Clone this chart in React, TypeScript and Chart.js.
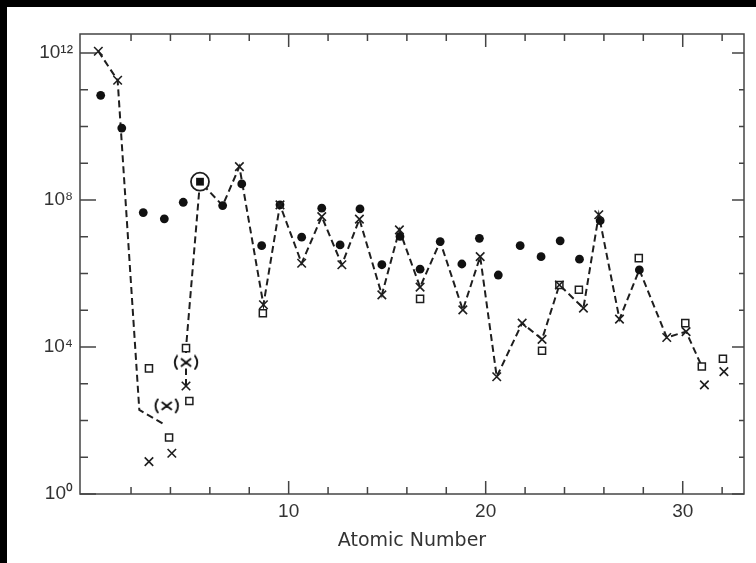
import React, { useEffect, useRef } from "react";
import { Chart, registerables } from "chart.js";

Chart.register(...registerables);

// Positions are read on the printed "Atomic Number" scale; values are log10 of abundance.
// Filled circles
const cosmicX = [0.46, 1.53, 2.62, 3.69, 4.65, 6.65, 7.62, 8.63, 9.56, 10.66, 11.68, 12.61, 13.62, 14.73, 15.65, 16.67, 17.69, 18.79, 19.68, 20.64, 21.75, 22.81, 23.78, 24.76, 25.81, 27.8];
const cosmicLog = [10.85, 9.96, 7.66, 7.49, 7.94, 7.85, 8.44, 6.76, 7.87, 6.99, 7.78, 6.78, 7.76, 6.24, 7.01, 6.12, 6.87, 6.26, 6.96, 5.96, 6.76, 6.46, 6.89, 6.39, 7.44, 6.1];

// Crosses
const solarX = [0.34, 1.32, 2.91, 4.07, 4.79, 7.5, 8.72, 9.56, 10.66, 11.68, 12.7, 13.59, 14.73, 15.62, 16.67, 18.84, 19.72, 20.56, 21.85, 22.86, 23.74, 24.96, 25.74, 26.79, 29.19, 30.17, 31.1, 32.09];
const solarLog = [12.05, 11.26, 0.88, 1.11, 2.94, 8.91, 5.15, 7.87, 6.28, 7.55, 6.24, 7.48, 5.42, 7.19, 5.63, 5.01, 6.46, 3.19, 4.65, 4.21, 5.69, 5.06, 7.6, 4.76, 4.26, 4.42, 2.97, 3.33];

// Open squares
const meteorX = [2.91, 3.93, 4.79, 4.96, 8.69, 16.67, 22.86, 23.74, 24.73, 27.77, 30.13, 30.97, 32.04];
const meteorLog = [3.42, 1.54, 3.97, 2.53, 4.92, 5.31, 3.9, 5.69, 5.56, 6.42, 4.65, 3.47, 3.68];

// Bracketed crosses "(x)"
const estX = [3.81, 4.79];
const estLog = [2.4, 3.58];

// Circled filled square (carbon)
const carbonX = [5.5];
const carbonLog = [8.5];

// Dashed line, H -> He -> Li/Be region
const curveX = [0.34, 1.32, 2.42, 3.73];
const curveLog = [12.05, 11.26, 2.29, 1.88];

// Dashed zig-zag, B -> Ga
const lineX = [4.79, 4.79, 5.5, 6.65, 7.5, 8.72, 9.56, 10.66, 11.68, 12.7, 13.59, 14.73, 15.62, 16.67, 17.69, 18.84, 19.72, 20.56, 21.85, 22.86, 23.74, 24.96, 25.74, 26.79, 27.8, 29.19, 30.17, 30.97];
const lineLog = [2.94, 3.97, 8.5, 7.85, 8.91, 5.15, 7.87, 6.28, 7.55, 6.24, 7.48, 5.42, 7.19, 5.63, 6.87, 5.01, 6.46, 3.19, 4.65, 4.21, 5.69, 5.06, 7.6, 4.76, 6.1, 4.26, 4.42, 3.47];

// Axis ticks / labels
const xLabelValues = [10, 20, 30];
const xMinorTicks = [2, 4, 6, 8, 12, 14, 16, 18, 22, 24, 26, 28, 32];
const yLabelExps = [0, 4, 8, 12];
const yTickLabels = ["10\u2070", "10\u2074", "10\u2078", "10\u00B9\u00B2"];
const yDecades = [0, 1, 2, 3, 4, 5, 6, 7, 8, 9, 10, 11, 12];

const INK = "#1e1e1e";

function pts(xs: number[], logs: number[]) {
  return xs.map((x, i) => ({ x, y: Math.pow(10, logs[i]) }));
}

function makeParenCross(): HTMLCanvasElement {
  const c = document.createElement("canvas");
  c.width = 28;
  c.height = 16;
  const g = c.getContext("2d")!;
  g.fillStyle = "#fff";
  g.fillRect(7, 2, 14, 12);
  g.strokeStyle = "#111";
  g.lineWidth = 1.9;
  g.lineCap = "round";
  g.beginPath();
  // left parenthesis
  g.moveTo(5, 1.5);
  g.quadraticCurveTo(0.5, 8, 5, 14.5);
  // right parenthesis
  g.moveTo(23, 1.5);
  g.quadraticCurveTo(27.5, 8, 23, 14.5);
  // cross
  g.moveTo(9.5, 4.5);
  g.lineTo(18.5, 11.5);
  g.moveTo(18.5, 4.5);
  g.lineTo(9.5, 11.5);
  g.stroke();
  return c;
}

const framePlugin = {
  id: "frame",
  beforeDraw(chart: any) {
    const { ctx, width, height } = chart;
    ctx.save();
    ctx.fillStyle = "#fff";
    ctx.fillRect(0, 0, width, height);
    ctx.fillStyle = "#000";
    ctx.fillRect(0, 0, width, 7);
    ctx.fillRect(0, 0, 7, height);
    ctx.restore();
  },
  beforeDatasetsDraw(chart: any) {
    const { ctx, chartArea } = chart;
    const { left, right, top, bottom } = chartArea;
    const xs = chart.scales.x;
    const ys = chart.scales.y;
    ctx.save();
    ctx.strokeStyle = "#444";
    ctx.lineWidth = 1.5;
    ctx.strokeRect(left, top, right - left, bottom - top);
    ctx.beginPath();
    const xTick = (v: number, len: number) => {
      const px = xs.getPixelForValue(v);
      ctx.moveTo(px, bottom);
      ctx.lineTo(px, bottom - len);
      ctx.moveTo(px, top);
      ctx.lineTo(px, top + len);
    };
    xMinorTicks.forEach((v) => xTick(v, 7));
    xLabelValues.forEach((v) => xTick(v, 13));
    yDecades.forEach((e) => {
      const py = ys.getPixelForValue(Math.pow(10, e));
      const major = yLabelExps.includes(e);
      ctx.moveTo(left, py);
      ctx.lineTo(left + (major ? 16 : 8), py);
      ctx.moveTo(right, py);
      ctx.lineTo(right - (major ? 12 : 5), py);
    });
    ctx.stroke();
    ctx.restore();
  },
};

export default function App() {
  const ref = useRef<HTMLCanvasElement | null>(null);

  useEffect(() => {
    if (!ref.current) return;
    const paren = makeParenCross();
    const chart = new Chart(ref.current, {
      type: "scatter",
      data: {
        datasets: [
          {
            data: pts(carbonX, carbonLog),
            pointStyle: "rect",
            pointRadius: 5.5,
            backgroundColor: "#111",
            borderColor: "#111",
            borderWidth: 0,
          },
          {
            data: pts(carbonX, carbonLog),
            pointStyle: "circle",
            pointRadius: 9,
            backgroundColor: "#fff",
            borderColor: INK,
            borderWidth: 1.8,
          },
          {
            data: pts(estX, estLog),
            pointStyle: paren as any,
            pointRadius: 6,
            backgroundColor: "#fff",
            borderColor: INK,
          },
          {
            data: pts(solarX, solarLog),
            pointStyle: "crossRot",
            pointRadius: 6,
            borderColor: INK,
            borderWidth: 1.6,
            backgroundColor: INK,
          },
          {
            data: pts(meteorX, meteorLog),
            pointStyle: "rect",
            pointRadius: 5,
            borderColor: INK,
            borderWidth: 1.5,
            backgroundColor: "#fff",
          },
          {
            data: pts(cosmicX, cosmicLog),
            pointStyle: "circle",
            pointRadius: 4.4,
            borderWidth: 0,
            backgroundColor: "#111",
            borderColor: "#111",
          },
          {
            data: pts(curveX, curveLog),
            showLine: true,
            pointRadius: 0,
            borderColor: INK,
            borderWidth: 2,
            borderDash: [7, 4],
            tension: 0,
            fill: false,
          } as any,
          {
            data: pts(lineX, lineLog),
            showLine: true,
            pointRadius: 0,
            borderColor: INK,
            borderWidth: 2,
            borderDash: [7, 4],
            tension: 0,
            fill: false,
          } as any,
        ],
      },
      options: {
        animation: false,
        responsive: false,
        devicePixelRatio: 1,
        events: [],
        layout: { padding: { left: 0, right: 12, top: 34, bottom: 0 } },
        plugins: { legend: { display: false }, tooltip: { enabled: false } },
        scales: {
          x: {
            type: "linear",
            position: "bottom",
            min: -0.59,
            max: 33.11,
            bounds: "data",
            grid: { display: false, drawTicks: false },
            border: { display: false },
            afterBuildTicks: (s: any) => {
              s.ticks = xLabelValues.map((v) => ({ value: v }));
            },
            afterFit: (s: any) => {
              s.height = 69;
            },
            ticks: {
              autoSkip: false,
              maxRotation: 0,
              padding: 6,
              color: "#333",
              font: { family: "'Liberation Sans', sans-serif", size: 19 },
              callback: (v: any) => String(v),
            },
            title: {
              display: true,
              text: "Atomic Number",
              color: "#333",
              font: { family: "'DejaVu Sans', sans-serif", size: 19 },
              padding: { top: 0, bottom: 11 },
            },
          },
          y: {
            type: "logarithmic",
            position: "left",
            min: 1,
            max: Math.pow(10, 12.52),
            bounds: "data",
            grid: { display: false, drawTicks: false },
            border: { display: false },
            afterBuildTicks: (s: any) => {
              s.ticks = yLabelExps.map((e) => ({ value: Math.pow(10, e) }));
            },
            afterFit: (s: any) => {
              s.width = 80;
            },
            ticks: {
              autoSkip: false,
              padding: 7,
              color: "#333",
              font: { family: "'Liberation Sans', sans-serif", size: 19 },
              callback: (_v: any, i: number) => yTickLabels[i],
            },
          },
        },
      },
      plugins: [framePlugin],
    } as any);
    return () => chart.destroy();
  }, []);

  return (
    <div style={{ position: "absolute", left: 0, top: 0, width: 756, height: 563, background: "#fff" }}>
      <canvas ref={ref} width={756} height={563} style={{ display: "block", width: 756, height: 563 }} />
    </div>
  );
}
